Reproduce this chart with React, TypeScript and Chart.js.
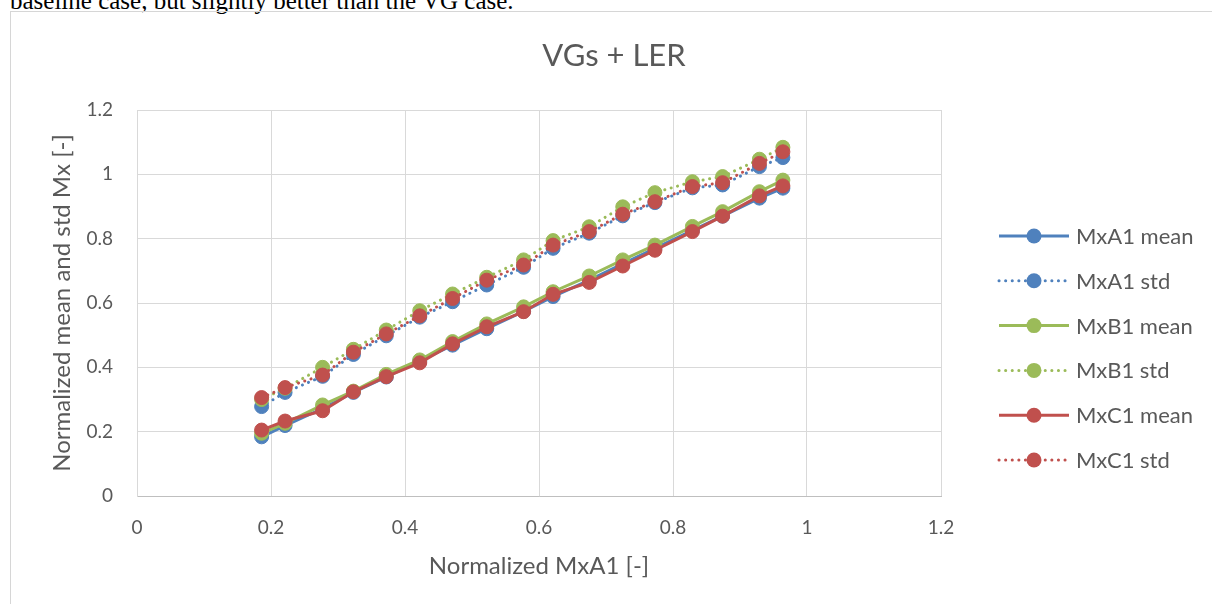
import React, { useEffect, useRef } from "react";
import { Chart, registerables } from "chart.js";

Chart.register(...registerables);

const chartTitle = "VGs + LER";
const xAxisTitle = "Normalized MxA1 [-]";
const yAxisTitle = "Normalized mean and std Mx [-]";
const topText = "baseline case, but slightly better than the VG case.";

const xValues = [0.186, 0.221, 0.277, 0.323, 0.372, 0.422, 0.471, 0.522, 0.577, 0.621, 0.675, 0.725, 0.773, 0.829, 0.874, 0.929, 0.964];

const mxA1Mean = [0.184, 0.219, 0.272, 0.322, 0.370, 0.419, 0.469, 0.520, 0.574, 0.620, 0.671, 0.722, 0.770, 0.826, 0.870, 0.926, 0.957];
const mxA1Std = [0.278, 0.322, 0.372, 0.440, 0.498, 0.556, 0.604, 0.656, 0.711, 0.770, 0.817, 0.871, 0.912, 0.958, 0.967, 1.024, 1.052];
const mxB1Mean = [0.195, 0.226, 0.283, 0.326, 0.378, 0.423, 0.480, 0.535, 0.588, 0.635, 0.684, 0.734, 0.780, 0.838, 0.884, 0.946, 0.982];
const mxB1Std = [0.300, 0.335, 0.400, 0.456, 0.516, 0.576, 0.628, 0.680, 0.734, 0.794, 0.837, 0.899, 0.943, 0.977, 0.993, 1.047, 1.084];
const mxC1Mean = [0.205, 0.233, 0.265, 0.324, 0.371, 0.414, 0.473, 0.526, 0.573, 0.627, 0.664, 0.715, 0.764, 0.822, 0.870, 0.933, 0.964];
const mxC1Std = [0.306, 0.337, 0.376, 0.447, 0.504, 0.560, 0.614, 0.671, 0.718, 0.780, 0.822, 0.876, 0.915, 0.962, 0.974, 1.034, 1.070];

const seriesNames = ["MxA1 mean", "MxA1 std", "MxB1 mean", "MxB1 std", "MxC1 mean", "MxC1 std"];
const seriesValues = [mxA1Mean, mxA1Std, mxB1Mean, mxB1Std, mxC1Mean, mxC1Std];
const seriesColors = ["#4F81BD", "#4F81BD", "#9BBB59", "#9BBB59", "#C0504D", "#C0504D"];
const seriesDotted = [false, true, false, true, false, true];

const TEXT = "#595959";
const FONT = "Lato";
const DOT_DASH = [0.1, 6.5];

const overlayPlugin = {
  id: "overlay",
  afterDraw(chart: any) {
    const ctx = chart.ctx;
    ctx.save();
    // title
    ctx.fillStyle = TEXT;
    ctx.font = `31px ${FONT}`;
    ctx.textAlign = "center";
    ctx.textBaseline = "middle";
    ctx.fillText(chartTitle, 614, 56);
    // legend
    const x0 = 999, x1 = 1069, mx = 1034, tx = 1076;
    for (let i = 0; i < seriesNames.length; i++) {
      const y = 236 + i * 44.8;
      const c = seriesColors[i];
      ctx.strokeStyle = c;
      ctx.lineWidth = 3;
      if (seriesDotted[i]) {
        ctx.setLineDash(DOT_DASH);
        ctx.lineCap = "round";
      } else {
        ctx.setLineDash([]);
        ctx.lineCap = "butt";
      }
      ctx.beginPath();
      ctx.moveTo(x0, y);
      ctx.lineTo(x1, y);
      ctx.stroke();
      ctx.setLineDash([]);
      ctx.fillStyle = c;
      ctx.beginPath();
      ctx.arc(mx, y, 7.5, 0, Math.PI * 2);
      ctx.fill();
      ctx.fillStyle = TEXT;
      ctx.font = `22px ${FONT}`;
      ctx.textAlign = "left";
      ctx.textBaseline = "middle";
      ctx.fillText(seriesNames[i], tx, y + 1);
    }
    ctx.restore();
  },
};

export default function App() {
  const ref = useRef<HTMLCanvasElement | null>(null);

  useEffect(() => {
    if (!ref.current) return;
    const datasets = seriesNames.map((name, i) => ({
      label: name,
      data: xValues.map((x, j) => ({ x, y: seriesValues[i][j] })),
      borderColor: seriesColors[i],
      backgroundColor: seriesColors[i],
      borderWidth: 3,
      borderDash: seriesDotted[i] ? DOT_DASH : [],
      borderCapStyle: seriesDotted[i] ? "round" : "butt",
      pointRadius: 7,
      pointBorderWidth: 1,
      pointBackgroundColor: seriesColors[i],
      pointBorderColor: seriesColors[i],
      tension: 0,
      order: seriesNames.length - i,
    }));
    const fmt = (v: any) => String(Number(Number(v).toFixed(1)));
    const chart = new Chart(ref.current, {
      type: "line",
      data: { datasets } as any,
      plugins: [overlayPlugin],
      options: {
        animation: false,
        responsive: false,
        layout: { padding: { left: 11, top: 110, right: 271, bottom: 0 } },
        plugins: { legend: { display: false }, tooltip: { enabled: false }, title: { display: false } },
        scales: {
          x: {
            type: "linear",
            min: 0,
            max: 1.2,
            ticks: { stepSize: 0.2, color: TEXT, font: { family: FONT, size: 19 }, padding: 20, callback: fmt, maxRotation: 0 },
            grid: { color: "#D9D9D9", lineWidth: 1, drawTicks: false },
            border: { color: "#BFBFBF", width: 1 },
            title: { display: true, text: xAxisTitle, color: TEXT, font: { family: FONT, size: 24 }, padding: { top: 0, bottom: 23 } },
            afterFit: (s: any) => { s.height = 108; },
          },
          y: {
            type: "linear",
            min: 0,
            max: 1.2,
            ticks: { stepSize: 0.2, color: TEXT, font: { family: FONT, size: 19 }, padding: 24, callback: fmt },
            grid: { color: "#D9D9D9", lineWidth: 1, drawTicks: false },
            border: { color: "#D9D9D9", width: 1 },
            title: { display: true, text: yAxisTitle, color: TEXT, font: { family: FONT, size: 24 }, padding: { top: 37, bottom: 0 } },
            afterFit: (s: any) => { s.width = 126; },
          },
        },
      } as any,
    });
    return () => chart.destroy();
  }, []);

  return (
    <div style={{ position: "fixed", left: 0, top: 0, width: 1212, height: 604, overflow: "hidden", background: "#fff" }}>
      <div
        style={{
          position: "absolute",
          left: 10,
          top: -12,
          fontFamily: "'Liberation Serif', serif",
          fontSize: 25,
          lineHeight: "25px",
          whiteSpace: "nowrap",
          color: "#000",
        }}
      >
        {topText}
      </div>
      <div
        style={{
          position: "absolute",
          left: 10,
          top: 11,
          width: 1400,
          height: 800,
          border: "1px solid #D6D6D6",
        }}
      />
      <canvas ref={ref} width={1212} height={604} style={{ position: "absolute", left: 0, top: 0 }} />
    </div>
  );
}
